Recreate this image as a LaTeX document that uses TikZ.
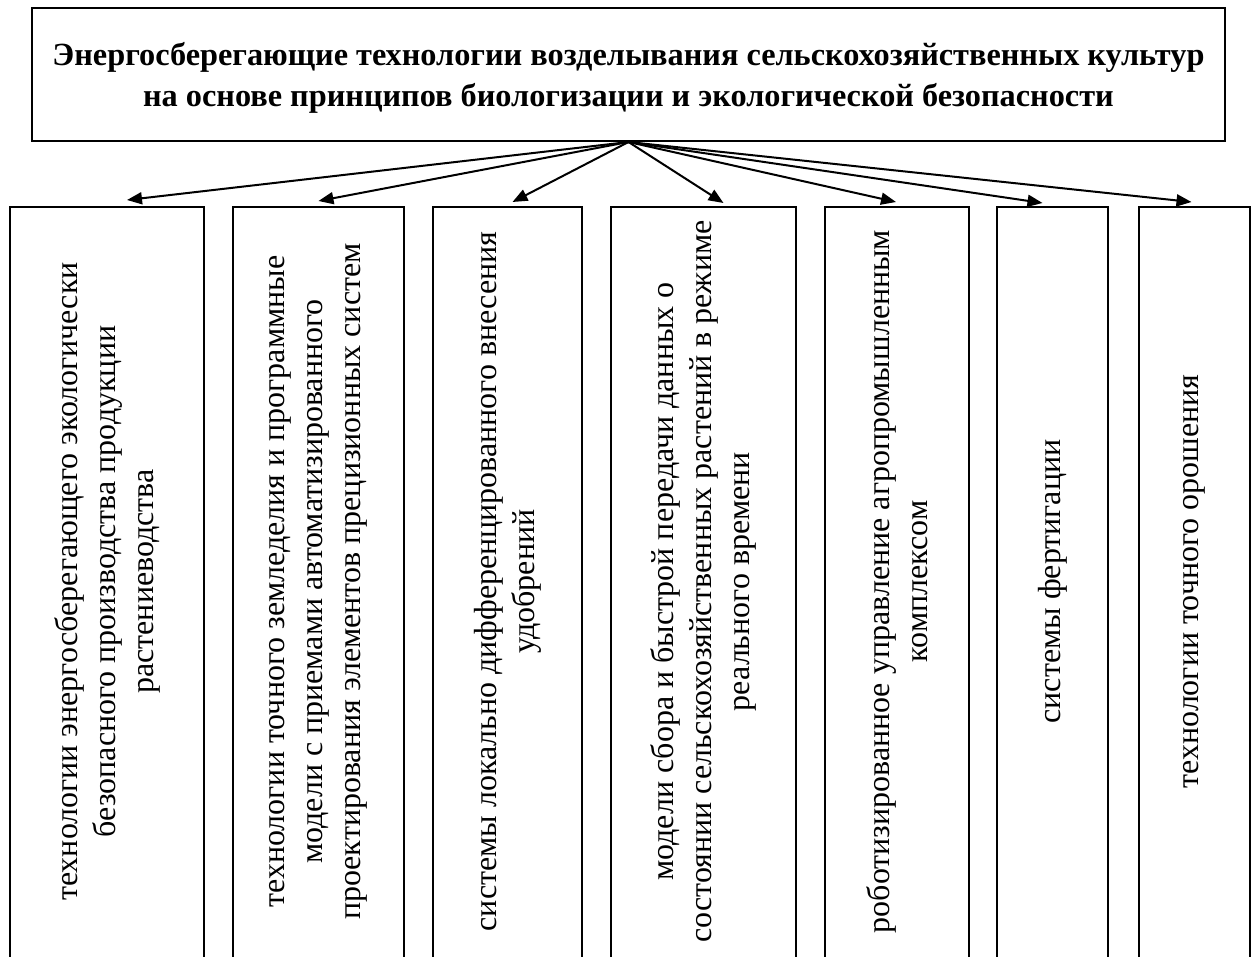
\documentclass[tikz,border=0pt]{standalone}
\usepackage{fontspec}
\setmainfont{Liberation Serif}
\usetikzlibrary{arrows.meta}
\begin{document}
\begin{tikzpicture}[x=1pt,y=-1pt,
  box/.style={draw, line width=2pt, inner sep=0pt, minimum height=755pt},
  vtext/.style={rotate=90, align=center, inner sep=0pt, font=\fontsize{32}{38}\selectfont},
  conn/.style={line width=2pt, -{Triangle[length=15pt,width=12pt]}},
]
\useasboundingbox (0,0) rectangle (1253,956);
\clip (0,0) rectangle (1253,956);
\node[draw, line width=2pt, inner sep=0pt, minimum width=1193pt, minimum height=133pt] (top) at (628.5,74.5) {};
\node[align=center, inner sep=0pt, font=\fontsize{32.3}{41}\selectfont\bfseries] (title) at ([yshift=-3pt]top.center)
  {Энергосберегающие технологии возделывания сельскохозяйственных культур\\на основе принципов биологизации и экологической безопасности};

\node[box, minimum width=194pt] (b1) at (107,584.5) {};
\node[box, minimum width=171pt] (b2) at (318.5,584.5) {};
\node[box, minimum width=149pt] (b3) at (507.5,584.5) {};
\node[box, minimum width=185pt] (b4) at (703.5,584.5) {};
\node[box, minimum width=144pt] (b5) at (897,584.5) {};
\node[box, minimum width=111pt] (b6) at (1052.5,584.5) {};
\node[box, minimum width=111pt] (b7) at (1194.5,584.5) {};

\node[vtext] (t1) at ([yshift=3pt]b1.center) {технологии энергосберегающего экологически\\безопасного производства продукции\\растениеводства};
\node[vtext] (t2) at ([yshift=3pt]b2.center) {технологии точного земледелия и программные\\модели с приемами автоматизированного\\проектирования элементов прецизионных систем};
\node[vtext] (t3) at ([yshift=3pt]b3.center) {системы локально дифференцированного внесения\\удобрений};
\node[vtext] (t4) at ([yshift=3pt]b4.center) {модели сбора и быстрой передачи данных о\\состоянии сельскохозяйственных растений в режиме\\реального времени};
\node[vtext] (t5) at ([yshift=3pt]b5.center) {роботизированное управление агропромышленным\\комплексом};
\node[vtext] (t6) at ([yshift=3pt]b6.center) {системы фертигации};
\node[vtext] (t7) at ([yshift=3pt]b7.center) {технологии точного орошения};

\draw[conn] (top.south) -- ([xshift=20pt,yshift=6pt]b1.north);
\draw[conn] (top.south) -- ([xshift=0pt,yshift=5pt]b2.north);
\draw[conn] (top.south) -- ([xshift=5pt,yshift=4pt]b3.north);
\draw[conn] (top.south) -- ([xshift=20pt,yshift=3pt]b4.north);
\draw[conn] (top.south) -- ([xshift=-1pt,yshift=4pt]b5.north);
\draw[conn] (top.south) -- ([xshift=-10pt,yshift=3pt]b6.north);
\draw[conn] (top.south) -- ([xshift=-3pt,yshift=4pt]b7.north);
\end{tikzpicture}
\end{document}
